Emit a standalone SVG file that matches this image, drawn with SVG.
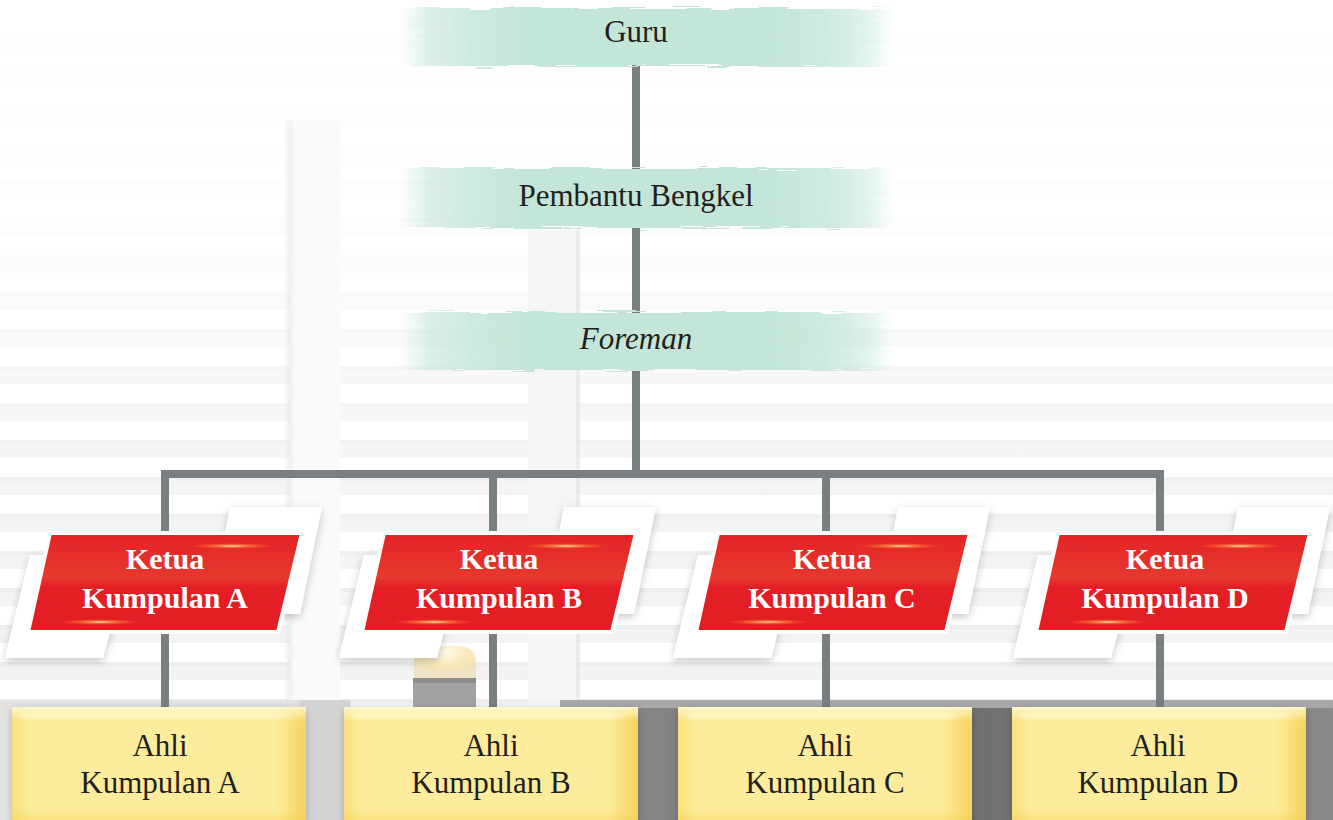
<svg xmlns="http://www.w3.org/2000/svg" xmlns:xlink="http://www.w3.org/1999/xlink" width="1333" height="820" viewBox="0 0 1333 820">
<style>
.lbl{font-family:"Liberation Serif","Times New Roman",serif;fill:#231f20;text-anchor:middle;font-size:31px}
.wht{font-family:"Liberation Serif","Times New Roman",serif;fill:#ffffff;text-anchor:middle;font-size:30px;font-weight:bold}
.conn{stroke:#7a7f82;stroke-width:8;fill:none}
</style>
<defs>
<pattern id="blinds" width="40" height="37" patternUnits="userSpaceOnUse">
<rect width="40" height="37" fill="#ffffff"/>
<rect y="0" width="40" height="14" fill="#f2f2f2"/>
<rect y="33" width="40" height="4" fill="#ececec"/>
</pattern>
<linearGradient id="fadeV" x1="0" y1="0" x2="0" y2="1">
<stop offset="0" stop-color="#fff" stop-opacity="1"/>
<stop offset="0.25" stop-color="#fff" stop-opacity="0.9"/>
<stop offset="0.6" stop-color="#fff" stop-opacity="0.2"/>
<stop offset="1" stop-color="#fff" stop-opacity="0"/>
</linearGradient>
<linearGradient id="band" x1="0" y1="0" x2="1" y2="0">
<stop offset="0" stop-color="#c4e6d8" stop-opacity="0"/>
<stop offset="0.06" stop-color="#c4e6d8" stop-opacity="0.6"/>
<stop offset="0.15" stop-color="#c4e6d8" stop-opacity="0.85"/>
<stop offset="0.25" stop-color="#c4e6d8" stop-opacity="1"/>
<stop offset="0.75" stop-color="#c4e6d8" stop-opacity="1"/>
<stop offset="0.86" stop-color="#c4e6d8" stop-opacity="0.85"/>
<stop offset="0.95" stop-color="#c4e6d8" stop-opacity="0.5"/>
<stop offset="1" stop-color="#c4e6d8" stop-opacity="0"/>
</linearGradient>
<filter id="brush" x="-5%" y="-30%" width="110%" height="160%">
<feTurbulence type="fractalNoise" baseFrequency="0.02 0.5" numOctaves="2" seed="3" result="n"/>
<feDisplacementMap in="SourceGraphic" in2="n" scale="10" xChannelSelector="R" yChannelSelector="G"/>
</filter>
<linearGradient id="red" x1="0" y1="0" x2="0" y2="1">
<stop offset="0" stop-color="#e42227"/>
<stop offset="0.45" stop-color="#e6392d"/>
<stop offset="0.55" stop-color="#e31e25"/>
<stop offset="1" stop-color="#e21d24"/>
</linearGradient>
<radialGradient id="streak">
<stop offset="0" stop-color="#fff6d0" stop-opacity="0.95"/>
<stop offset="0.4" stop-color="#ffa040" stop-opacity="0.6"/>
<stop offset="1" stop-color="#ff6020" stop-opacity="0"/>
</radialGradient>
<radialGradient id="lamp" cx="0.5" cy="0.2" r="0.7">
<stop offset="0" stop-color="#fffbe6"/>
<stop offset="0.6" stop-color="#f8e8b8"/>
<stop offset="1" stop-color="#efd9a8" stop-opacity="0.6"/>
</radialGradient>
<linearGradient id="yel" x1="0" y1="0" x2="1" y2="0">
<stop offset="0" stop-color="#f8e07a"/>
<stop offset="0.06" stop-color="#fcec9c"/>
<stop offset="0.9" stop-color="#fcec9c"/>
<stop offset="1" stop-color="#f5d35a"/>
</linearGradient>
<linearGradient id="yelV" x1="0" y1="0" x2="0" y2="1">
<stop offset="0" stop-color="#fff8d0" stop-opacity="0.9"/>
<stop offset="0.12" stop-color="#fff8d0" stop-opacity="0"/>
<stop offset="0.85" stop-color="#f6d663" stop-opacity="0"/>
<stop offset="1" stop-color="#f3cc4a" stop-opacity="0.7"/>
</linearGradient>
<linearGradient id="dark" x1="0" y1="0" x2="1" y2="0">
<stop offset="0" stop-color="#8c8c8e"/>
<stop offset="0.5" stop-color="#6e6e70"/>
<stop offset="1" stop-color="#8a8a8c"/>
</linearGradient>
<filter id="sh" x="-20%" y="-20%" width="140%" height="140%">
<feDropShadow dx="0" dy="3" stdDeviation="4" flood-color="#000" flood-opacity="0.22"/>
</filter>
<filter id="blur2"><feGaussianBlur stdDeviation="2"/></filter>
<g id="redNode">
<polygon points="230,507 322,507 300,614 210,614" fill="#ffffff" filter="url(#sh)"/>
<polygon points="30,555 130,555 103,658 5,658" fill="#ffffff" filter="url(#sh)"/>
<polygon points="50,533 302,533 278,632 28,632" fill="url(#red)" stroke="#ffffff" stroke-width="4"/>
<ellipse cx="232" cy="546" rx="42" ry="3" fill="url(#streak)"/>
<ellipse cx="100" cy="622" rx="42" ry="3" fill="url(#streak)"/>
</g>
<g id="yelNode">
<rect x="12" y="707" width="294" height="120" fill="url(#yel)" filter="url(#sh)"/>
<rect x="12" y="707" width="294" height="120" fill="url(#yelV)"/>
<rect x="20" y="714" width="270" height="4" fill="#fffbe0" opacity="0.6" filter="url(#blur2)"/>
</g>
</defs>

<g id="background">
<rect width="1333" height="820" fill="url(#blinds)"/>
<rect width="1333" height="820" fill="url(#fadeV)"/>
<rect x="290" y="120" width="50" height="600" fill="#fafafa"/>
<rect x="286" y="120" width="6" height="600" fill="#e6e6e6" opacity="0.6" filter="url(#blur2)"/>
<rect x="528" y="230" width="48" height="480" fill="#f6f6f6"/>
<rect x="576" y="230" width="4" height="480" fill="#e4e4e4" opacity="0.7"/>
<rect x="0" y="700" width="340" height="120" fill="#e2e2e2"/>
<rect x="300" y="700" width="50" height="120" fill="#d4d4d4"/>
<path d="M414,678 L414,662 Q414,648 430,646 L460,646 Q476,648 476,662 L476,678 Z" fill="url(#lamp)"/>
<rect x="413" y="678" width="63" height="30" fill="#a3a1a2"/>
<rect x="413" y="678" width="63" height="5" fill="#8e8c8d"/>
<rect x="560" y="700" width="773" height="120" fill="url(#dark)"/>
<rect x="560" y="700" width="773" height="8" fill="#a8a8aa"/>
</g>

<g id="connectors">
<line class="conn" x1="636" y1="60" x2="636" y2="474"/>
<polyline class="conn" points="165,710 165,474 1160,474 1160,710"/>
<line class="conn" x1="493" y1="474" x2="493" y2="710"/>
<line class="conn" x1="826" y1="474" x2="826" y2="710"/>
</g>

<g id="guru">
<rect x="400" y="8" width="492" height="58" fill="url(#band)" filter="url(#brush)"/>
<text class="lbl" x="636" y="42">Guru</text>
</g>
<g id="pembantu">
<rect x="400" y="168" width="492" height="60" fill="url(#band)" filter="url(#brush)"/>
<text class="lbl" x="636" y="206">Pembantu Bengkel</text>
</g>
<g id="foreman">
<rect x="400" y="312" width="492" height="58" fill="url(#band)" filter="url(#brush)"/>
<text class="lbl" x="636" y="349" font-style="italic">Foreman</text>
</g>

<g id="ketua-a">
<use xlink:href="#redNode"/>
<text class="wht" x="165" y="569">Ketua</text>
<text class="wht" x="165" y="608">Kumpulan A</text>
</g>
<g id="ketua-b">
<use xlink:href="#redNode" transform="translate(334,0)"/>
<text class="wht" x="499" y="569">Ketua</text>
<text class="wht" x="499" y="608">Kumpulan B</text>
</g>
<g id="ketua-c">
<use xlink:href="#redNode" transform="translate(668,0)"/>
<text class="wht" x="832" y="569">Ketua</text>
<text class="wht" x="832" y="608">Kumpulan C</text>
</g>
<g id="ketua-d">
<use xlink:href="#redNode" transform="translate(1008,0)"/>
<text class="wht" x="1165" y="569">Ketua</text>
<text class="wht" x="1165" y="608">Kumpulan D</text>
</g>

<g id="ahli-a">
<use xlink:href="#yelNode"/>
<text class="lbl" x="160" y="756">Ahli</text>
<text class="lbl" x="160" y="793">Kumpulan A</text>
</g>
<g id="ahli-b">
<use xlink:href="#yelNode" transform="translate(332,0)"/>
<text class="lbl" x="491" y="756">Ahli</text>
<text class="lbl" x="491" y="793">Kumpulan B</text>
</g>
<g id="ahli-c">
<use xlink:href="#yelNode" transform="translate(666,0)"/>
<text class="lbl" x="825" y="756">Ahli</text>
<text class="lbl" x="825" y="793">Kumpulan C</text>
</g>
<g id="ahli-d">
<use xlink:href="#yelNode" transform="translate(1000,0)"/>
<text class="lbl" x="1158" y="756">Ahli</text>
<text class="lbl" x="1158" y="793">Kumpulan D</text>
</g>
</svg>
